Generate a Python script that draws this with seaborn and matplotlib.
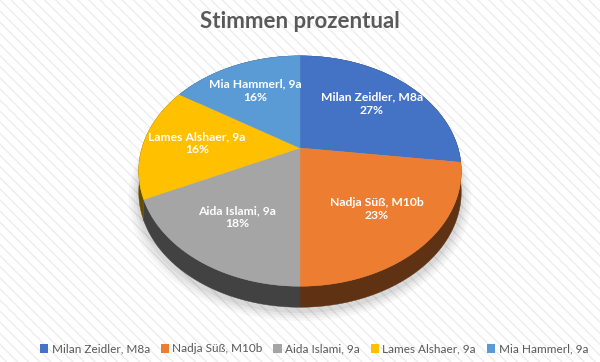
import numpy as np
import matplotlib
matplotlib.use("Agg")
import matplotlib.pyplot as plt
import seaborn as sns
from matplotlib.patches import Polygon, Rectangle

# Data
names = ["Milan Zeidler, M8a", "Nadja Süß, M10b", "Aida Islami, 9a",
         "Lames Alshaer, 9a", "Mia Hammerl, 9a"]
shares = [27, 23, 18, 16, 16]
colors = ["#4472C4", "#ED7D31", "#A5A5A5", "#FFC000", "#5B9BD5"]
title = "Stimmen prozentual"

sns.set_theme(style="white")
plt.rcParams["font.family"] = ["Lato", "DejaVu Sans"]
plt.rcParams["hatch.linewidth"] = 1.0

# 3d look: tilt + perspective
K = 0.2       # perspective strength
S = 0.7       # vertical squash
DEPTH = 0.133 # side height


def persp(x, y):
    w = 1 + K * y
    return x / w, S * y / w


def darken(c, f):
    r, g, b = matplotlib.colors.to_rgb(c)
    return (r * f, g * f, b * f)


fig = plt.figure(figsize=(6, 3.62), dpi=100)
fig.patch.set_facecolor("white")
fig.patches.append(Rectangle((0, 0), 1, 1, transform=fig.transFigure,
                             facecolor="white", edgecolor="#ededed",
                             hatch="\\\\\\", lw=0, zorder=-10))

ax = fig.add_axes([0, 0, 1, 1])
wedges, texts = ax.pie(shares, colors=colors, startangle=90, counterclock=False,
                       labels=[f"{n}\n{s}%" for n, s in zip(names, shares)],
                       labeldistance=0.66,
                       textprops=dict(color="white", fontweight="bold", fontsize=8.7,
                                      ha="center", va="center", multialignment="center"))

# soft shadow under the pie
t = np.linspace(0, 2 * np.pi, 300)
for i, a in enumerate([0.03, 0.03, 0.04, 0.05]):
    grow = 1.06 - i * 0.015
    sx, sy = persp(np.cos(t) * grow, np.sin(t) * grow)
    ax.add_patch(Polygon(np.c_[sx, sy - DEPTH - 0.02], closed=True,
                         facecolor="black", alpha=a, lw=0, zorder=0))

tops = []
for w, c in zip(wedges, colors):
    w.set_visible(False)
    th = np.radians(np.linspace(w.theta1, w.theta2, 150))
    ax_, ay_ = persp(np.cos(th), np.sin(th))
    side = np.r_[np.c_[ax_, ay_], np.c_[ax_[::-1], ay_[::-1] - DEPTH]]
    ax.add_patch(Polygon(side, closed=True, facecolor=darken(c, 0.4),
                         edgecolor=darken(c, 0.4), lw=0.3, zorder=1))
    top = Polygon(np.r_[[[0, 0]], np.c_[ax_, ay_]], closed=True,
                  facecolor=c, edgecolor=c, lw=0.3, zorder=2)
    ax.add_patch(top)
    tops.append(top)

for txt in texts:
    x, y = txt.get_position()
    txt.set_position(persp(x, y))
    txt.set_zorder(3)

R = 158.0
ax.set_xlim(-300 / R, 300 / R)
ax.set_ylim(-(362 - 148) / R, 148 / R)
ax.set_aspect("auto")
ax.axis("off")

fig.text(0.5, 1 - 22 / 362, title, ha="center", va="center", fontsize=16,
         fontweight="bold", color="#595959")

leg = fig.legend(tops, names, loc="center", bbox_to_anchor=(314 / 600, 13 / 362), ncol=5,
                 frameon=False, fontsize=8.5, handlelength=0.7, handleheight=0.7,
                 columnspacing=0.9, handletextpad=0.3)
for lt in leg.get_texts():
    lt.set_color("#595959")
for h in leg.legend_handles:
    h.set_edgecolor("none")

fig.savefig("out.png", dpi=100)
